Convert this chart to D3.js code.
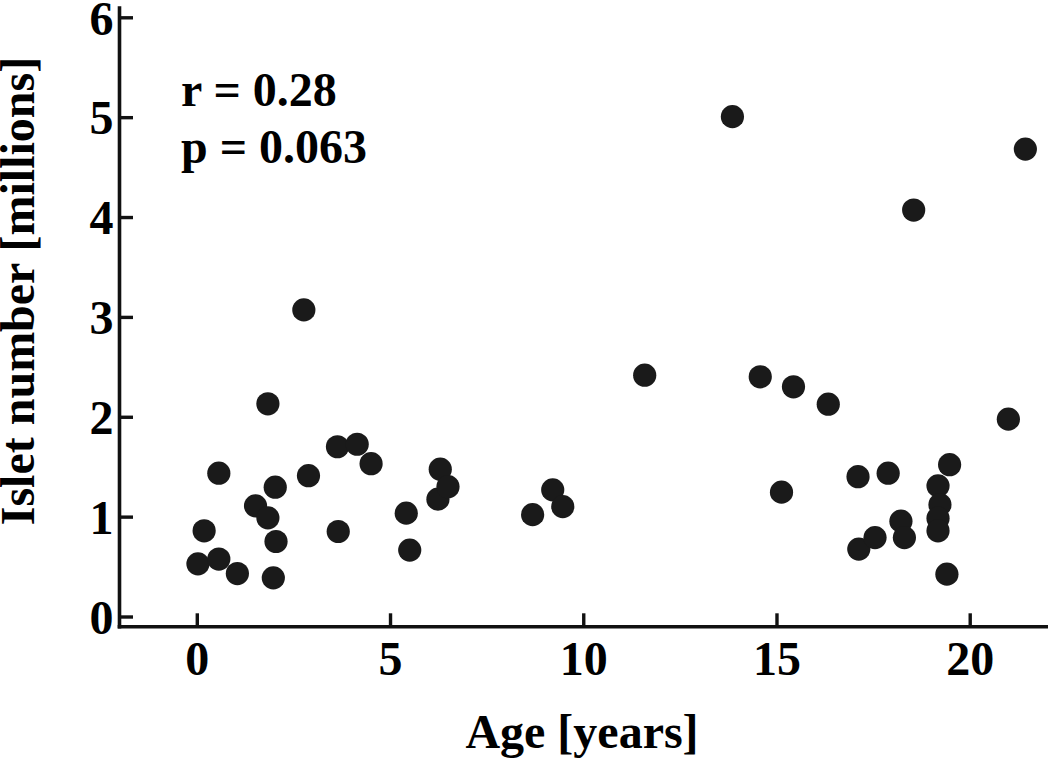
<!DOCTYPE html>
<html>
<head>
<meta charset="utf-8">
<script src="https://cdn.jsdelivr.net/npm/d3@7/dist/d3.min.js"></script>
<style>
  body { margin: 0; background: #fff; }
  text { font-family: "Liberation Serif", "Times New Roman", serif; font-weight: bold; }
</style>
</head>
<body>
<div id="chart"></div>
<script>
// age in years, islet number in millions
var ages = [0.03, 0.19, 0.57, 0.57, 1.05, 1.52, 1.84, 1.84, 2.03, 2.05, 1.98, 2.77, 2.89,
	3.64, 3.66, 4.15, 4.51, 5.42, 5.51, 6.24, 6.30, 6.50, 8.69, 9.21, 9.47,
	11.59, 13.86, 14.58, 15.13, 15.44, 16.34, 17.11, 17.13, 17.55, 17.89, 18.22, 18.31,
	18.55, 19.18, 19.23, 19.18, 19.18, 19.41, 19.48, 21.0, 21.44];
var islets = [0.527, 0.858, 1.435, 0.575, 0.43, 1.108, 2.13, 0.988, 1.295, 0.751, 0.387, 3.07, 1.41,
	1.70, 0.851, 1.725, 1.53, 1.035, 0.665, 1.175, 1.475, 1.30, 1.02, 1.268, 1.10,
	2.416, 5.005, 2.40, 1.245, 2.30, 2.126, 1.40, 0.675, 0.79, 1.435, 0.955, 0.79,
	4.07, 1.308, 1.12, 0.985, 0.858, 0.424, 1.52, 1.976, 4.68];
var xTicks = [0, 5, 10, 15, 20];
var yTicks = [0, 1, 2, 3, 4, 5, 6];
var statLines = ["r = 0.28", "p = 0.063"];

var width = 1050, height = 759;

var svg = d3.select("#chart").append("svg")
	.attr("width", width)
	.attr("height", height);

var x = d3.scaleLinear().domain([-2, 22]).range([119.5, 1047]);
var y = d3.scaleLinear().domain([0, 6]).range([616.5, 17.3]);

// axis lines
svg.append("line")
	.attr("x1", 119.5).attr("x2", 119.5)
	.attr("y1", y(6.11)).attr("y2", 628.5)
	.attr("stroke", "#111").attr("stroke-width", 3.6);
svg.append("line")
	.attr("x1", 117.7).attr("x2", 1048)
	.attr("y1", 626.8).attr("y2", 626.8)
	.attr("stroke", "#111").attr("stroke-width", 3.6);

// y axis, ticks point inward
var yAxis = svg.append("g")
	.attr("transform", "translate(119.5,0)")
	.call(d3.axisLeft(y).tickValues(yTicks).tickFormat(d3.format("d"))
		.tickSizeInner(-13.5).tickSizeOuter(0));
yAxis.select(".domain").remove();
yAxis.selectAll(".tick line").attr("stroke", "#111").attr("stroke-width", 3.4);
yAxis.selectAll(".tick text")
	.attr("x", -6)
	.attr("dy", "0.35em")
	.attr("fill", "#000")
	.style("font-size", "48px")
	.style("font-family", "Liberation Serif")
	.style("font-weight", "bold");

// x axis
var xAxis = svg.append("g")
	.attr("transform", "translate(0,626.8)")
	.call(d3.axisBottom(x).tickValues(xTicks).tickSizeInner(-13.5).tickSizeOuter(0));
xAxis.select(".domain").remove();
xAxis.selectAll(".tick line").attr("stroke", "#111").attr("stroke-width", 3.4);
xAxis.selectAll(".tick text")
	.attr("y", 48)
	.attr("dy", 0)
	.attr("fill", "#000")
	.style("font-size", "48px")
	.style("font-family", "Liberation Serif")
	.style("font-weight", "bold");

// axis titles
svg.append("text")
	.attr("x", 582).attr("y", 748)
	.attr("text-anchor", "middle")
	.style("font-size", "48px")
	.text("Age [years]");

svg.append("text")
	.attr("transform", "translate(34,291) rotate(-90)")
	.attr("text-anchor", "middle")
	.style("font-size", "48px")
	.text("Islet number [millions]");

// correlation text
svg.selectAll(".stat").data(statLines).enter().append("text")
	.attr("class", "stat")
	.attr("x", 181)
	.attr("y", function(d, i){ return 106 + i * 57; })
	.style("font-size", "48px")
	.text(function(d){ return d; });

// dots
var pts = ages.map(function(a, i){ return {age: a, n: islets[i]}; });
svg.selectAll("circle").data(pts).enter().append("circle")
	.attr("cx", function(d){ return x(d.age); })
	.attr("cy", function(d){ return y(d.n); })
	.attr("r", 11.6)
	.style("fill", "#1a1a1a");
</script>
</body>
</html>
